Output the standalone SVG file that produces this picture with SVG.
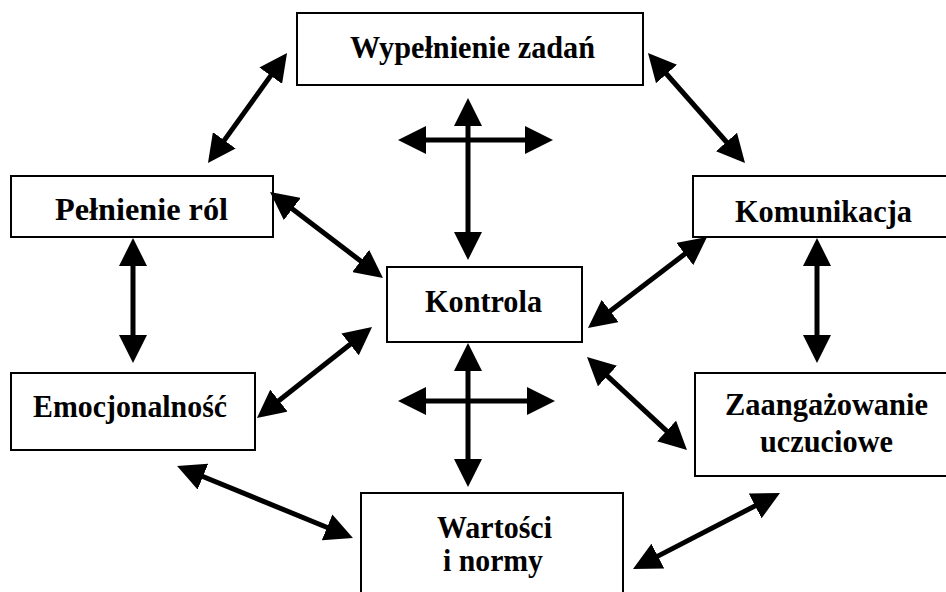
<svg xmlns="http://www.w3.org/2000/svg" width="946" height="592" viewBox="0 0 946 592">
<style>
.box{fill:#fff;stroke:#000;stroke-width:2}
.lbl{font-family:"Liberation Serif","Times New Roman",serif;font-weight:bold;font-size:32px;fill:#000;text-anchor:middle}
.arr{stroke:#000;stroke-width:5;fill:none;marker-start:url(#head);marker-end:url(#head)}
</style>
<defs>
<marker id="head" markerUnits="userSpaceOnUse" markerWidth="28" markerHeight="28" refX="18" refY="14" orient="auto-start-reverse">
<path d="M0,0 L28,14 L0,28 z" fill="#000"/>
</marker>
</defs>
<rect width="946" height="592" fill="#fff"/>
<g id="wypelnienie">
<rect class="box" x="297" y="13" width="346" height="72"/>
<text class="lbl" x="472.5" y="58" textLength="245" lengthAdjust="spacingAndGlyphs">Wypełnienie zadań</text>
</g>
<g id="pelnienie">
<rect class="box" x="11" y="176" width="262" height="61"/>
<text class="lbl" x="141.5" y="220" textLength="173" lengthAdjust="spacingAndGlyphs">Pełnienie ról</text>
</g>
<g id="emocjonalnosc">
<rect class="box" x="11" y="373" width="244" height="77"/>
<text class="lbl" x="130" y="417" textLength="194" lengthAdjust="spacingAndGlyphs">Emocjonalność</text>
</g>
<g id="kontrola">
<rect class="box" x="387" y="267" width="195" height="75"/>
<text class="lbl" x="483.5" y="312" textLength="117" lengthAdjust="spacingAndGlyphs">Kontrola</text>
</g>
<g id="komunikacja">
<rect class="box" x="693" y="176" width="262" height="61"/>
<text class="lbl" x="823.5" y="222" textLength="177" lengthAdjust="spacingAndGlyphs">Komunikacja</text>
</g>
<g id="zaangazowanie">
<rect class="box" x="695" y="373" width="262" height="103"/>
<text class="lbl" x="826.5" y="415" textLength="203" lengthAdjust="spacingAndGlyphs">Zaangażowanie</text>
<text class="lbl" x="826.5" y="452" textLength="133" lengthAdjust="spacingAndGlyphs">uczuciowe</text>
</g>
<g id="wartosci">
<rect class="box" x="361" y="493" width="262" height="112"/>
<text class="lbl" x="494.5" y="538" textLength="115" lengthAdjust="spacingAndGlyphs">Wartości</text>
<text class="lbl" x="493" y="571" textLength="100" lengthAdjust="spacingAndGlyphs">i normy</text>
</g>
<g id="connectors">
<line class="arr" x1="213.8" y1="154.9" x2="281.2" y2="61.1"/>
<line class="arr" x1="654.6" y1="60.5" x2="738.4" y2="155.5"/>
<line class="arr" x1="468" y1="108" x2="468" y2="250"/>
<line class="arr" x1="408" y1="140" x2="543" y2="140"/>
<line class="arr" x1="278" y1="198.1" x2="375" y2="271.9"/>
<line class="arr" x1="133" y1="248" x2="133" y2="353"/>
<line class="arr" x1="264.8" y1="411.8" x2="364.2" y2="333.2"/>
<line class="arr" x1="699.1" y1="243.1" x2="595.9" y2="321.9"/>
<line class="arr" x1="817" y1="248" x2="817" y2="353"/>
<line class="arr" x1="594.3" y1="363.8" x2="679.7" y2="443.2"/>
<line class="arr" x1="468" y1="353" x2="468" y2="477"/>
<line class="arr" x1="408" y1="401" x2="545" y2="401"/>
<line class="arr" x1="186.3" y1="469.8" x2="343.7" y2="534.2"/>
<line class="arr" x1="771.1" y1="497.6" x2="641.9" y2="564.4"/>
</g>
</svg>
